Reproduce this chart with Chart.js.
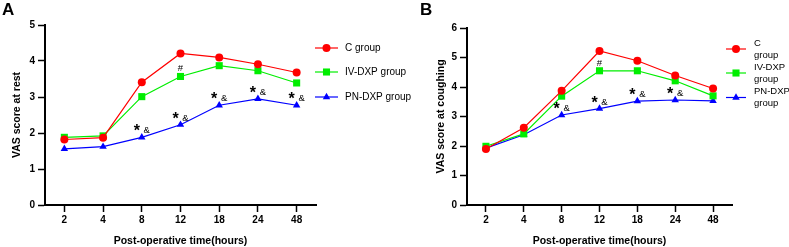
<!DOCTYPE html>
<html>
<head>
<meta charset="utf-8">
<script src="https://cdn.jsdelivr.net/npm/chart.js@4/dist/chart.umd.min.js"></script>
<style>
  body { margin: 0; background: #fff; width: 789px; height: 247px; overflow: hidden; position: relative; }
  canvas { position: absolute; top: 0; }
</style>
</head>
<body>
<canvas id="chartA" width="430" height="247" style="left:0"></canvas>
<canvas id="chartB" width="389" height="247" style="left:400px"></canvas>
<script>
// ===== DATA =====
const hours = ["2", "4", "8", "12", "18", "24", "48"];
const groupNames = ["C group", "IV-DXP group", "PN-DXP group"];

// Panel A: VAS at rest
const restC  = [1.82, 1.87, 3.41, 4.21, 4.10, 3.91, 3.68];
const restIV = [1.88, 1.92, 3.01, 3.57, 3.87, 3.73, 3.39];
const restPN = [1.56, 1.62, 1.88, 2.23, 2.77, 2.95, 2.77];
const restStar = [0, 0, 1, 1, 1, 1, 1];   // "*&" above PN-DXP
const restHash = [0, 0, 0, 1, 0, 0, 0];   // "#" above IV-DXP
const restTicks = [0, 1, 2, 3, 4, 5];

// Panel B: VAS at coughing
const coughC  = [1.90, 2.62, 3.87, 5.22, 4.89, 4.39, 3.95];
const coughIV = [1.99, 2.41, 3.69, 4.55, 4.55, 4.21, 3.70];
const coughPN = [1.93, 2.38, 3.05, 3.27, 3.52, 3.56, 3.53];
const coughStar = [0, 0, 1, 1, 1, 1, 0];
const coughHash = [0, 0, 0, 1, 0, 0, 0];
const coughTicks = [0, 1, 2, 3, 4, 5, 6];

const FONT = '"Liberation Sans", Arial, sans-serif';
const COLORS = ["#ff0000", "#00ee00", "#0000ff"];
const STYLES = ["circle", "rect", "triangle"];
const RADII = [4, 5, 4.3];

// ===== MARKER =====
function drawMarker(ctx, style, x, y, r, color) {
  ctx.fillStyle = color;
  ctx.beginPath();
  if (style === "circle") {
    ctx.arc(x, y, r, 0, Math.PI * 2);
  } else if (style === "rect") {
    const s = Math.SQRT1_2 * r;
    ctx.rect(x - s, y - s, 2 * s, 2 * s);
  } else {
    ctx.moveTo(x, y - r);
    ctx.lineTo(x + r * 0.866, y + r * 0.5);
    ctx.lineTo(x - r * 0.866, y + r * 0.5);
    ctx.closePath();
  }
  ctx.fill();
}

// ===== OVERLAY PLUGIN (legend, marks, panel letter) =====
const overlay = {
  id: "overlay",
  afterDatasetsDraw(chart, args, o) {
    const ctx = chart.ctx;
    const xs = chart.scales.x, ys = chart.scales.y;
    ctx.save();
    ctx.fillStyle = "#000";
    ctx.textBaseline = "alphabetic";
    ctx.textAlign = "center";

    o.stars.forEach((s, i) => {
      if (!s) return;
      const px = xs.getPixelForValue(i), py = ys.getPixelForValue(o.pn[i]);
      ctx.font = "bold 16px " + FONT;
      ctx.fillText("*", px - 5, py - 1);
      ctx.font = "9.5px " + FONT;
      ctx.fillText("&", px + 5, py - 4);
    });
    o.hashes.forEach((h, i) => {
      if (!h) return;
      const px = xs.getPixelForValue(i), py = ys.getPixelForValue(o.iv[i]);
      ctx.font = "9.5px " + FONT;
      ctx.fillText("#", px, py - 5);
    });

    // legend
    const L = o.legend;
    ctx.textAlign = "left";
    ctx.textBaseline = "middle";
    ctx.font = L.size + "px " + FONT;
    groupNames.forEach((name, i) => {
      const y = L.ys[i];
      ctx.strokeStyle = COLORS[i];
      ctx.lineWidth = 1.2;
      ctx.beginPath();
      ctx.moveTo(L.x0, y);
      ctx.lineTo(L.x1, y);
      ctx.stroke();
      drawMarker(ctx, STYLES[i], (L.x0 + L.x1) / 2, y, RADII[i], COLORS[i]);
      ctx.fillStyle = "#000";
      if (L.wrap) {
        const parts = name.split(" ");
        ctx.fillText(parts[0], L.tx, y - 6);
        ctx.fillText(parts[1], L.tx, y + 6);
      } else {
        ctx.fillText(name, L.tx, y);
      }
    });

    // panel letter
    ctx.font = "bold 17px " + FONT;
    ctx.textBaseline = "top";
    ctx.fillText(o.letter.text, o.letter.x, o.letter.y);
    ctx.restore();
  }
};

// ===== BUILD CHART =====
function buildChart(id, c, iv, pn, ticks, yTitle, stars, hashes, layout) {
  return new Chart(document.getElementById(id), {
    type: "line",
    data: {
      labels: hours,
      datasets: [c, iv, pn].map((d, i) => ({
        label: groupNames[i],
        data: d,
        borderColor: COLORS[i],
        backgroundColor: COLORS[i],
        borderWidth: 1.2,
        pointStyle: STYLES[i],
        pointRadius: RADII[i],
        pointBorderWidth: 0,
        tension: 0
      }))
    },
    options: {
      responsive: false,
      devicePixelRatio: 1,
      animation: false,
      layout: { padding: layout.padding },
      plugins: {
        legend: { display: false },
        tooltip: { enabled: false },
        overlay: { stars, hashes, pn, iv, legend: layout.legend, letter: layout.letter }
      },
      scales: {
        x: {
          offset: true,
          grid: { display: true, drawOnChartArea: false, tickLength: 7, tickColor: "#000", tickWidth: 1.5, offset: false },
          border: { color: "#000", width: 2 },
          ticks: { color: "#000", font: { family: FONT, size: 10, weight: "bold" }, padding: 2, maxRotation: 0 },
          title: { display: true, text: "Post-operative time(hours)", color: "#000", font: { family: FONT, size: 10.5, weight: "bold" }, padding: { top: 1, bottom: 0 } },
          afterFit: s => { s.height = 42; }
        },
        y: {
          min: 0,
          max: ticks[ticks.length - 1],
          afterBuildTicks: s => { s.ticks = ticks.map(v => ({ value: v })); },
          grid: { display: true, drawOnChartArea: false, tickLength: 7, tickColor: "#000", tickWidth: 1.5 },
          border: { color: "#000", width: 2 },
          ticks: { color: "#000", font: { family: FONT, size: 10, weight: "bold" }, padding: 3 },
          title: { display: true, text: yTitle, color: "#000", font: { family: FONT, size: 10.5, weight: "bold" }, padding: { top: layout.yTitlePad, bottom: 0 } },
          afterFit: s => { s.width = 45; }
        }
      }
    },
    plugins: [overlay]
  });
}

buildChart("chartA", restC, restIV, restPN, restTicks, "VAS score at rest", restStar, restHash, {
  padding: { top: 25, left: 0, right: 114, bottom: 0 },
  yTitlePad: 11,
  legend: { x0: 315, x1: 338, tx: 345, ys: [48, 72, 97], wrap: false, size: 10 },
  letter: { text: "A", x: 2, y: 2 }
});

buildChart("chartB", coughC, coughIV, coughPN, coughTicks, "VAS score at coughing", coughStar, coughHash, {
  padding: { top: 28, left: 22, right: 57, bottom: 0 },
  yTitlePad: 12.5,
  legend: { x0: 326, x1: 346, tx: 354, ys: [49, 73, 97.5], wrap: true, size: 9.5 },
  letter: { text: "B", x: 20, y: 2 }
});
</script>
</body>
</html>
